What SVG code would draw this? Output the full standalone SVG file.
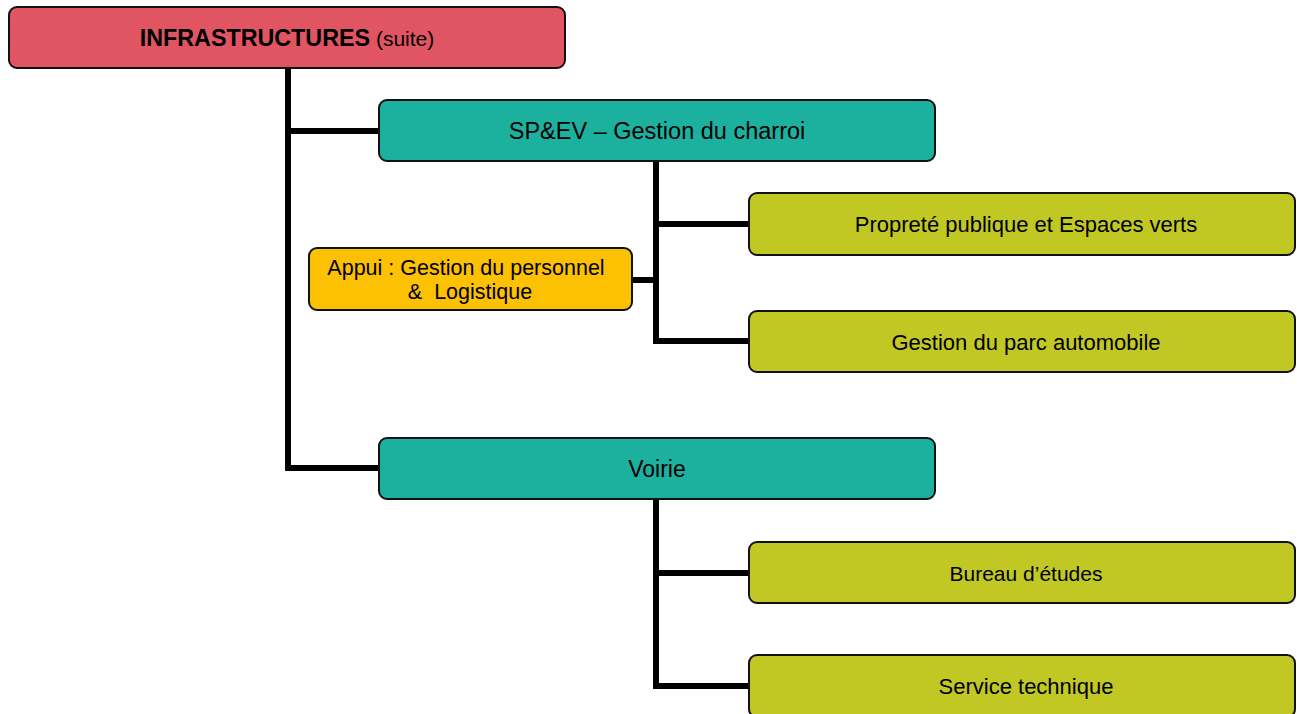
<svg xmlns="http://www.w3.org/2000/svg" width="1297" height="714" viewBox="0 0 1297 714">
<style>
.box{stroke:#111;stroke-width:2}
.red{fill:#E15563}
.teal{fill:#1CB09F}
.lime{fill:#C2C823}
.gold{fill:#FBC102}
.t{font-family:"Liberation Sans",Arial,sans-serif;font-size:22px;fill:#000;text-anchor:middle}
.conn{stroke:#000;stroke-width:6;fill:none;stroke-linecap:square;stroke-linejoin:miter}
</style>
<g id="connectors">
<polyline class="conn" points="288,68 288,468"/>
<line class="conn" x1="288" y1="131" x2="378" y2="131"/>
<line class="conn" x1="288" y1="468" x2="378" y2="468"/>
<polyline class="conn" points="656,162 656,341 748,341"/>
<line class="conn" x1="656" y1="224" x2="748" y2="224"/>
<line class="conn" x1="633" y1="280" x2="656" y2="280"/>
<polyline class="conn" points="656,499 656,686 748,686"/>
<line class="conn" x1="656" y1="573" x2="748" y2="573"/>
</g>
<g id="infrastructures">
<rect class="box red" x="9" y="7" width="556" height="61" rx="8"/>
<text class="t" x="287" y="46"><tspan font-weight="bold" style="font-size:23.3px">INFRASTRUCTURES</tspan><tspan style="font-size:21px"> (suite)</tspan></text>
</g>
<g id="spev">
<rect class="box teal" x="379" y="100" width="556" height="61" rx="8"/>
<text class="t" x="657" y="139" style="font-size:23.5px">SP&amp;EV – Gestion du charroi</text>
</g>
<g id="proprete">
<rect class="box lime" x="749" y="193" width="546" height="62" rx="8"/>
<text class="t" x="1026" y="232">Propreté publique et Espaces verts</text>
</g>
<g id="appui">
<rect class="box gold" x="309" y="248" width="323" height="62" rx="8"/>
<text class="t" x="466" y="275" style="font-size:21.5px">Appui : Gestion du personnel</text>
<text class="t" x="470" y="299" style="font-size:21.5px">&amp;&#160; Logistique</text>
</g>
<g id="parc">
<rect class="box lime" x="749" y="311" width="546" height="61" rx="8"/>
<text class="t" x="1026" y="350">Gestion du parc automobile</text>
</g>
<g id="voirie">
<rect class="box teal" x="379" y="438" width="556" height="61" rx="8"/>
<text class="t" x="657" y="477" style="font-size:23px">Voirie</text>
</g>
<g id="bureau">
<rect class="box lime" x="749" y="542" width="546" height="61" rx="8"/>
<text class="t" x="1026" y="581" style="font-size:21px">Bureau d’études</text>
</g>
<g id="service">
<rect class="box lime" x="749" y="655" width="546" height="62" rx="8"/>
<text class="t" x="1026" y="694">Service technique</text>
</g>
</svg>
